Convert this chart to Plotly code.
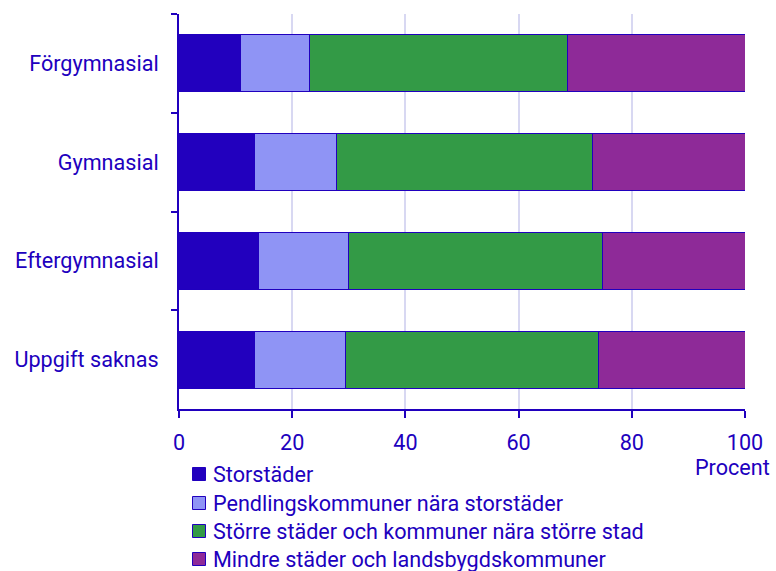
import plotly.graph_objects as go

# Education level categories (top to bottom)
categories = ["Förgymnasial", "Gymnasial", "Eftergymnasial", "Uppgift saknas"]

# Share (percent) of each municipality group per education level
storstader = [10.8, 13.4, 14.0, 13.4]
pendling = [12.2, 14.4, 16.0, 16.1]
storre = [45.6, 45.3, 44.9, 44.6]
mindre = [31.4, 26.9, 25.1, 25.9]

series_names = [
    "Storstäder",
    "Pendlingskommuner nära storstäder",
    "Större städer och kommuner nära större stad",
    "Mindre städer och landsbygdskommuner",
]
series_values = [storstader, pendling, storre, mindre]
series_colors = ["#2200BE", "#8F94F5", "#339A46", "#8E2A98"]

x_ticks = [0, 20, 40, 60, 80, 100]
x_title = "Procent"

INK = "#2000BE"
FONT = "Roboto"
FS = 21.6

W, H = 776, 571
L, R, T, B = 179, 31, 14, 162
PW, PH = W - L - R, H - T - B


def px_x(px):
    return (px - L) / PW


def px_y(py):
    return (H - B - py) / PH


fig = go.Figure()
for name, vals, col in zip(series_names, series_values, series_colors):
    fig.add_trace(go.Bar(
        y=categories, x=vals, name=name, orientation="h",
        marker=dict(color=col, line=dict(color=INK, width=1)),
        showlegend=False,
    ))

# Legend drawn as squares plus text below the plot
shapes = []
annotations = []
leg_rows = [474, 503, 531, 559]
for name, col, cy in zip(series_names, series_colors, leg_rows):
    shapes.append(dict(
        type="rect", xref="paper", yref="paper",
        x0=px_x(192.5), x1=px_x(205.5), y0=px_y(cy + 6.5), y1=px_y(cy - 6.5),
        fillcolor=col, line=dict(color=INK, width=1),
    ))
    annotations.append(dict(
        xref="paper", yref="paper", x=px_x(210.5), y=px_y(cy),
        xanchor="left", yanchor="middle", text=name, showarrow=False,
        font=dict(family=FONT, size=FS, color=INK),
    ))

annotations.append(dict(
    xref="paper", yref="paper", x=px_x(772), y=px_y(468),
    xanchor="right", yanchor="middle", text=x_title, showarrow=False,
    font=dict(family=FONT, size=FS, color=INK),
))

fig.update_layout(
    barmode="stack",
    bargap=0.423,
    width=W, height=H,
    margin=dict(l=L, r=R, t=T, b=B, pad=0),
    paper_bgcolor="white",
    plot_bgcolor="white",
    font=dict(family=FONT, size=FS, color=INK),
    shapes=shapes,
    annotations=annotations,
    xaxis=dict(
        range=[0, 100], tickvals=x_ticks, ticktext=[str(v) for v in x_ticks],
        showgrid=True, gridcolor="#D8D8F2", gridwidth=2,
        showline=True, linecolor=INK, linewidth=2,
        ticks="outside", ticklen=7, tickwidth=2, tickcolor=INK,
        ticklabelstandoff=6,
        zeroline=False, fixedrange=True,
    ),
    yaxis=dict(
        autorange="reversed",
        showgrid=False,
        showline=True, linecolor=INK, linewidth=2,
        ticks="outside", tickson="boundaries", ticklen=6, tickwidth=2, tickcolor=INK,
        ticklabelstandoff=14,
        fixedrange=True,
    ),
)

fig.write_html("out.html")
